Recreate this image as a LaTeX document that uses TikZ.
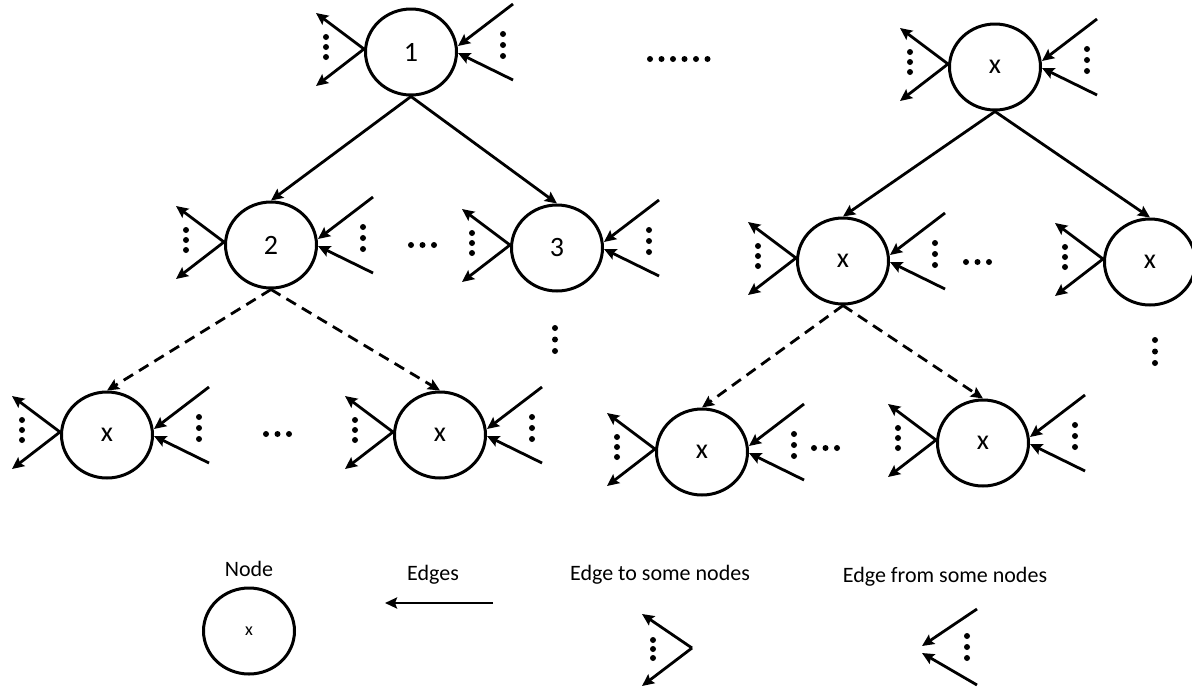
\documentclass[tikz,border=0pt]{standalone}
\usepackage{fontspec}
\setmainfont{Carlito}
\usetikzlibrary{arrows.meta,shapes.geometric,calc}
\tikzset{
  gnode/.style={ellipse,draw,line width=3pt,minimum width=91pt,minimum height=86pt,inner sep=0pt,font=\fontsize{28}{32}\selectfont},
  arr/.style={line width=2.8pt,-{Stealth[length=12pt,width=11pt,inset=2pt]}},
  darr/.style={arr,dash pattern=on 11pt off 7pt},
  lbl/.style={font=\fontsize{22}{26}\selectfont},
}
\newcommand\fanleft[1]{%
  \coordinate (#1-lo) at ($(#1.west)+(0,-3)$);
  \coordinate (#1-lt) at ($(#1-lo)+(-48,-36)$);
  \coordinate (#1-lb) at ($(#1-lo)+(-48,37)$);
  \draw[arr] (#1-lo) -- (#1-lt);
  \draw[arr] (#1-lo) -- (#1-lb);
  \foreach \dy in {-15,-5,5} \fill ($(#1.west)+(-38,\dy)$) circle (3pt);
}
\newcommand\fanright[1]{%
  \coordinate (#1-ra) at ($(#1.east)+(0,-6)$);
  \coordinate (#1-rb) at ($(#1.east)+(0,1)$);
  \coordinate (#1-rt) at ($(#1.east)+(55,-48)$);
  \coordinate (#1-rd) at ($(#1.east)+(55,28)$);
  \draw[arr] (#1-rt) -- (#1-ra);
  \draw[arr] (#1-rd) -- (#1-rb);
  \foreach \dy in {-18,-7,4} \fill ($(#1.east)+(45,\dy)$) circle (3pt);
}
\newcommand\hdots[3]{% x of first dot, y, count
  \foreach \k in {1,...,#3} \fill ({#1+(\k-1)*11.5},#2) circle (3pt);
}
\newcommand\vdotsat[2]{%
  \foreach \k in {0,1,2} \fill (#1,{#2+\k*11.5}) circle (3pt);
}
\begin{document}
\begin{tikzpicture}[x=1pt,y=-1pt]
\useasboundingbox (0,0) rectangle (1192,689);
% left tree
\node[gnode] (n1) at (411,52) {1};
\node[gnode] (n2) at (271,245) {2};
\node[gnode] (n3) at (557,248) {3};
\node[gnode] (b1) at (107,435) {x};
\node[gnode] (b2) at (440,435) {x};
% right tree
\node[gnode] (tr) at (995,67) {x};
\node[gnode] (m1) at (843,261) {x};
\node[gnode] (m2) at (1150,262) {x};
\node[gnode] (b3) at (702,452) {x};
\node[gnode] (b4) at (983,443) {x};
% tree edges
\draw[arr] (n1.south) -- (n2.north);
\draw[arr] (n1.south) -- (n3.north);
\draw[darr] (n2.south) -- (b1.north);
\draw[darr] (n2.south) -- (b2.north);
\draw[arr] (tr.south) -- (m1.north);
\draw[arr] (tr.south) -- (m2.north);
\draw[darr] (m1.south) -- (b3.north);
\draw[darr] (m1.south) -- (b4.north);
% fans
\foreach \n in {n1,n2,n3,b1,b2,tr,m1,m2,b3,b4} {\fanleft{\n}}
\foreach \n in {n1,n2,n3,b1,b2,tr,m1,b3,b4} {\fanright{\n}}
% ellipses
\hdots{650}{59}{6}
\hdots{411}{245}{3}
\hdots{966}{262}{3}
\hdots{266}{434}{3}
\hdots{814}{448}{3}
\vdotsat{555}{328}
\vdotsat{1155}{340}
% legend
\node[lbl] (lnode) at (249,569) {Node};
\node[gnode,font=\fontsize{18}{20}\selectfont] (lg) at (249,631) {x};
\node[lbl] (ledges) at (433,575) {Edges};
\coordinate (ea) at (493,603);
\coordinate (eb) at (385,603);
\draw[arr] (ea) -- (eb);
\node[lbl] (lto) at (660,575) {Edge to some nodes};
\coordinate (lo) at (692,648);
\coordinate (lot) at (642,614);
\coordinate (lob) at (642,686);
\draw[arr] (lo) -- (lot);
\draw[arr] (lo) -- (lob);
\foreach \y in {640,649,658} \fill (653,\y) circle (3pt);
\node[lbl] (lfrom) at (945,577) {Edge from some nodes};
\coordinate (ra) at (922,646);
\coordinate (rb) at (922,653);
\coordinate (rt) at (977,609);
\coordinate (rd) at (977,685);
\draw[arr] (rt) -- (ra);
\draw[arr] (rd) -- (rb);
\foreach \y in {636,647,658} \fill (967,\y) circle (3pt);
\end{tikzpicture}
\end{document}
